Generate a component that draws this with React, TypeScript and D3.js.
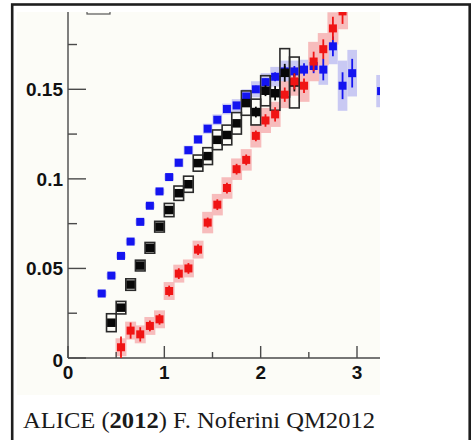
import React from "react";
import * as d3 from "d3";

// ---- data ----
const blueX = [0.35, 0.45, 0.55, 0.65, 0.75, 0.85, 0.95, 1.05, 1.15, 1.25, 1.35, 1.45, 1.55, 1.65, 1.75, 1.85, 1.95, 2.05, 2.15, 2.25, 2.35, 2.45, 2.55, 2.65, 2.75, 2.85, 2.95, 3.25];
const blueY = [0.036, 0.046, 0.057, 0.065, 0.076, 0.085, 0.093, 0.101, 0.109, 0.116, 0.122, 0.128, 0.133, 0.139, 0.141, 0.146, 0.150, 0.154, 0.157, 0.160, 0.160, 0.161, 0.163, 0.161, 0.174, 0.152, 0.159, 0.149];
const blueStat = [0.001, 0.001, 0.001, 0.001, 0.001, 0.001, 0.001, 0.001, 0.001, 0.001, 0.001, 0.001, 0.001, 0.0012, 0.0014, 0.0015, 0.002, 0.002, 0.0025, 0.003, 0.003, 0.0035, 0.004, 0.006, 0.0055, 0.0075, 0.008, 0.006];
const blueSys = [0.0015, 0.0015, 0.0015, 0.0015, 0.0015, 0.0015, 0.0015, 0.0018, 0.0025, 0.0025, 0.0025, 0.0028, 0.003, 0.003, 0.0035, 0.004, 0.0045, 0.005, 0.0055, 0.006, 0.006, 0.0055, 0.006, 0.0085, 0.01, 0.014, 0.013, 0.009];

const blackX = [0.45, 0.55, 0.65, 0.75, 0.85, 0.95, 1.05, 1.15, 1.25, 1.35, 1.45, 1.55, 1.65, 1.75, 1.85, 1.95, 2.05, 2.15, 2.25, 2.35];
const blackY = [0.0197, 0.0281, 0.041, 0.0516, 0.0615, 0.0733, 0.0826, 0.092, 0.097, 0.1088, 0.1127, 0.1218, 0.1245, 0.131, 0.1423, 0.1373, 0.1492, 0.1478, 0.1592, 0.1538];
const blackStat = [0.001, 0.001, 0.001, 0.001, 0.001, 0.001, 0.001, 0.001, 0.001, 0.001, 0.001, 0.0012, 0.0015, 0.002, 0.002, 0.003, 0.003, 0.004, 0.005, 0.005];
const blackSys = [0.005, 0.0035, 0.0032, 0.003, 0.003, 0.003, 0.0037, 0.004, 0.0045, 0.0045, 0.0047, 0.0055, 0.0055, 0.006, 0.0068, 0.0072, 0.0084, 0.0095, 0.0135, 0.0142];

const redX = [0.55, 0.65, 0.75, 0.85, 0.95, 1.05, 1.15, 1.25, 1.35, 1.45, 1.55, 1.65, 1.75, 1.85, 1.95, 2.05, 2.15, 2.25, 2.35, 2.45, 2.55, 2.65, 2.75, 2.85];
const redY = [0.006, 0.0153, 0.0132, 0.0179, 0.0216, 0.0374, 0.0471, 0.050, 0.0605, 0.0756, 0.0856, 0.0949, 0.1054, 0.1106, 0.124, 0.1326, 0.136, 0.147, 0.1544, 0.152, 0.1655, 0.1724, 0.184, 0.1935];
const redStat = [0.006, 0.0045, 0.004, 0.003, 0.003, 0.003, 0.003, 0.003, 0.003, 0.0028, 0.003, 0.003, 0.003, 0.003, 0.003, 0.0035, 0.004, 0.004, 0.0045, 0.004, 0.0055, 0.0055, 0.0065, 0.007];
const redSys = [0.005, 0.005, 0.005, 0.005, 0.005, 0.005, 0.005, 0.005, 0.005, 0.006, 0.006, 0.006, 0.006, 0.006, 0.0065, 0.007, 0.007, 0.0075, 0.008, 0.009, 0.011, 0.009, 0.009, 0.01];

const yTickValues = [0, 0.05, 0.1, 0.15];
const yTickLabels = ["0", "0.05", "0.1", "0.15"];
const yMinorValues = [0.025, 0.075, 0.125, 0.175];
const xTickValues = [0, 1, 2, 3];
const xTickLabels = ["0", "1", "2", "3"];
const xMinorValues = [0.5, 1.5, 2.5];

const captionParts = [
  { text: "ALICE (", bold: false },
  { text: "2012", bold: true },
  { text: ") F. Noferini QM2012", bold: false },
];

const W = 471;
const H = 440;

export default function App() {
  const x = d3.scaleLinear().domain([0, 3]).range([68, 357]);
  const y = d3.scaleLinear().domain([0, 0.15]).range([358, 89.3]);
  const xEnd = 380;
  const yTop = 12;
  const axisColor = "#4a4a4a";
  const numFont = "'Liberation Sans', Arial, Helvetica, sans-serif";

  const sysBox = (
    xs: number[],
    ys: number[],
    sy: number[],
    halfW: number,
    fill: string,
    stroke: string,
    key: string
  ) =>
    xs.map((xv, i) => {
      const x0 = x(xv - halfW);
      const x1 = x(xv + halfW);
      const y0 = y(ys[i] + sy[i]);
      const y1 = y(ys[i] - sy[i]);
      return (
        <rect
          key={key + i}
          x={x0}
          y={y0}
          width={x1 - x0}
          height={y1 - y0}
          fill={fill}
          stroke={stroke}
          strokeWidth={stroke === "none" ? 0 : 1.6}
        />
      );
    });

  const points = (
    xs: number[],
    ys: number[],
    st: number[],
    color: string,
    size: number,
    key: string
  ) =>
    xs.map((xv, i) => (
      <g key={key + i}>
        <line
          x1={x(xv)}
          x2={x(xv)}
          y1={y(ys[i] + st[i])}
          y2={y(ys[i] - st[i])}
          stroke={color}
          strokeWidth={1.8}
        />
        <rect
          x={x(xv) - size / 2}
          y={y(ys[i]) - size / 2}
          width={size}
          height={size}
          fill={color}
        />
      </g>
    ));

  return (
    <svg
      width={W}
      height={H}
      style={{ position: "absolute", left: 0, top: 0, background: "#ffffff" }}
    >
      <defs>
        <clipPath id="plotClip">
          <rect x={17} y={yTop} width={xEnd - 17} height={395 - yTop} />
        </clipPath>
      </defs>
      {/* chart image background */}
      <rect x={17} y={yTop} width={xEnd - 17} height={395 - yTop} fill="#fcfcf7" />

      <g clipPath="url(#plotClip)">
        {/* legend fragment clipped at top */}
        <rect x={87} y={0} width={23} height={14} fill="none" stroke="#555" strokeWidth={1.2} />

        {/* systematic boxes */}
        {sysBox(blueX, blueY, blueSys, 0.05, "#c9c9f3", "none", "bs")}
        {sysBox(redX, redY, redSys, 0.057, "#f7bcbc", "none", "rs")}
        {sysBox(blackX, blackY, blackSys, 0.05, "none", "#2a2a2a", "ks")}

        {/* axes */}
        <line x1={x(0)} x2={x(0)} y1={yTop} y2={y(0)} stroke={axisColor} strokeWidth={1.4} />
        <line x1={x(0)} x2={xEnd} y1={y(0)} y2={y(0)} stroke={axisColor} strokeWidth={1.4} />
        {yTickValues.map((v) => (
          <line key={"yt" + v} x1={x(0)} x2={x(0) + 18} y1={y(v)} y2={y(v)} stroke={axisColor} strokeWidth={1.4} />
        ))}
        {yMinorValues.map((v) => (
          <line key={"ym" + v} x1={x(0)} x2={x(0) + 9} y1={y(v)} y2={y(v)} stroke={axisColor} strokeWidth={1.4} />
        ))}
        {xTickValues.map((v) => (
          <line key={"xt" + v} x1={x(v)} x2={x(v)} y1={y(0)} y2={y(0) - 12} stroke={axisColor} strokeWidth={1.4} />
        ))}
        {xMinorValues.map((v) => (
          <line key={"xm" + v} x1={x(v)} x2={x(v)} y1={y(0)} y2={y(0) - 6} stroke={axisColor} strokeWidth={1.4} />
        ))}

        {/* points */}
        {points(blueX, blueY, blueStat, "#1414f0", 8, "bp")}
        {points(blackX, blackY, blackStat, "#080808", 8.5, "kp")}
        {points(redX, redY, redStat, "#f01414", 8, "rp")}

        {/* tick labels */}
        {yTickValues.map((v, i) => (
          <text
            key={"yl" + v}
            x={63}
            y={y(v) + (v === 0 ? 2 : 0)}
            dy="0.36em"
            textAnchor="end"
            fontFamily={numFont}
            fontWeight="bold"
            fontSize={19}
            fill="#111"
          >
            {yTickLabels[i]}
          </text>
        ))}
        {xTickValues.map((v, i) => (
          <text
            key={"xl" + v}
            x={x(v)}
            y={379}
            textAnchor="middle"
            fontFamily={numFont}
            fontWeight="bold"
            fontSize={19}
            fill="#111"
          >
            {xTickLabels[i]}
          </text>
        ))}
      </g>

      {/* caption */}
      <text
        x={23}
        y={428}
        fontFamily="'Liberation Serif', 'Times New Roman', serif"
        fontSize={22.5}
        fill="#1a1a1a"
        textLength={352}
        lengthAdjust="spacingAndGlyphs"
      >
        {captionParts.map((p, i) => (
          <tspan key={i} fontWeight={p.bold ? "bold" : "normal"}>
            {p.text}
          </tspan>
        ))}
      </text>

      {/* outer frame */}
      <rect x={12.2} y={4.5} width={457.5} height={460} fill="none" stroke="#1e1e1e" strokeWidth={2.6} />
    </svg>
  );
}
